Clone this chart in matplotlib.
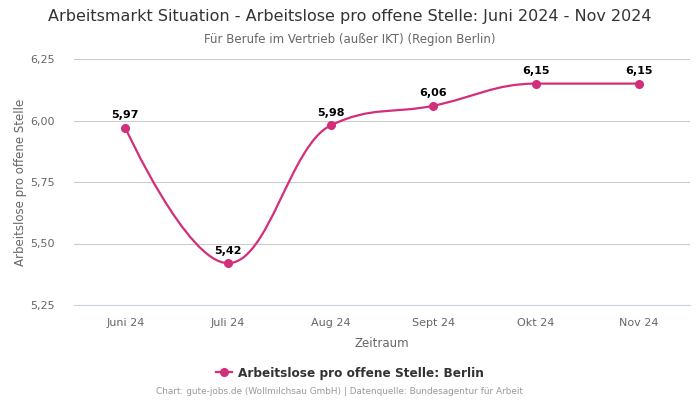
import matplotlib
matplotlib.use("Agg")
import matplotlib.pyplot as plt
from matplotlib.path import Path
from matplotlib.patches import PathPatch
from matplotlib.lines import Line2D
import numpy as np

categories = ["Juni 24", "Juli 24", "Aug 24", "Sept 24", "Okt 24", "Nov 24"]
values = [5.97, 5.42, 5.98, 6.06, 6.15, 6.15]
yticks = [5.25, 5.50, 5.75, 6.00, 6.25]
color = "#d22e7a"

plt.rcParams['font.family'] = ['DejaVu Sans']

fig = plt.figure(figsize=(7, 4), dpi=100)
ax = fig.add_axes([74/700, 1-305/400, 616/700, 246/400])

xs = np.arange(len(categories), dtype=float)
ys = np.array(values, dtype=float)

# Highcharts-style spline control points
def controls(i):
    n = len(xs)
    if i == 0 or i == n - 1:
        return (xs[i], ys[i]), (xs[i], ys[i])
    s, d = 1.5, 2.5
    lx, ly = xs[i-1], ys[i-1]
    nx, ny = xs[i+1], ys[i+1]
    px, py = xs[i], ys[i]
    lcx = (s*px + lx)/d; lcy = (s*py + ly)/d
    rcx = (s*px + nx)/d; rcy = (s*py + ny)/d
    if rcx != lcx:
        corr = ((rcy - lcy)*(rcx - px))/(rcx - lcx) + py - rcy
        lcy += corr; rcy += corr
    if lcy > ly and lcy > py:
        lcy = max(ly, py); rcy = 2*py - lcy
    elif lcy < ly and lcy < py:
        lcy = min(ly, py); rcy = 2*py - lcy
    if rcy > ny and rcy > py:
        rcy = max(ny, py); lcy = 2*py - rcy
    elif rcy < ny and rcy < py:
        rcy = min(ny, py); lcy = 2*py - rcy
    return (lcx, lcy), (rcx, rcy)

verts = [(xs[0], ys[0])]
codes = [Path.MOVETO]
for i in range(1, len(xs)):
    _, r_prev = controls(i-1)
    l_cur, _ = controls(i)
    verts += [r_prev, l_cur, (xs[i], ys[i])]
    codes += [Path.CURVE4]*3
patch = PathPatch(Path(verts, codes), facecolor='none', edgecolor=color, lw=1.6, zorder=3)
ax.add_patch(patch)
ax.plot(xs, ys, 'o', color=color, ms=5.5, zorder=4)

for x, y in zip(xs, ys):
    ax.annotate(f"{y:.2f}".replace('.', ','), (x, y), xytext=(0, 5.5), textcoords='offset points',
                ha='center', va='bottom', fontsize=8, fontweight='bold', color='black', zorder=5)

ax.set_xlim(-0.5, len(categories) - 0.5)
ax.set_ylim(5.25, 6.25)
ax.set_yticks(yticks)
ax.set_yticklabels([f"{t:.2f}".replace('.', ',') for t in yticks])
ax.set_xticks(xs)
ax.set_xticklabels(categories)
ax.grid(axis='y', color='#cccccc', lw=0.8)
ax.set_axisbelow(True)
for sp in ['top', 'right', 'left']:
    ax.spines[sp].set_visible(False)
ax.spines['bottom'].set_color('#ccd6eb')
ax.tick_params(axis='both', length=0, labelsize=8, colors='#666666')
ax.tick_params(axis='x', pad=9)
ax.tick_params(axis='y', pad=14)
ax.set_xlabel("Zeitraum", fontsize=8.5, color='#666666', labelpad=7)
ax.set_ylabel("Arbeitslose pro offene Stelle", fontsize=8.5, color='#666666', labelpad=2)

fig.text(0.5, 1-17/400, "Arbeitsmarkt Situation - Arbeitslose pro offene Stelle: Juni 2024 - Nov 2024",
         ha='center', va='center', fontsize=11.5, color='#333333')
fig.text(0.5, 1-39/400, "Für Berufe im Vertrieb (außer IKT) (Region Berlin)",
         ha='center', va='center', fontsize=8.5, color='#666666')

h = Line2D([], [], color=color, marker='o', ms=5.5, lw=1.6)
fig.legend([h], ["Arbeitslose pro offene Stelle: Berlin"], loc='center', bbox_to_anchor=(0.5, 1-373/400),
           frameon=False, prop={'size': 8.7, 'weight': 'bold'}, labelcolor='#333333',
           handlelength=1.3, handletextpad=0.5)
fig.text(340/700, 1-392/400, "Chart: gute-jobs.de (Wollmilchsau GmbH) | Datenquelle: Bundesagentur für Arbeit",
         ha='center', va='center', fontsize=6.4, color='#999999')

fig.savefig("out.png", dpi=100)
